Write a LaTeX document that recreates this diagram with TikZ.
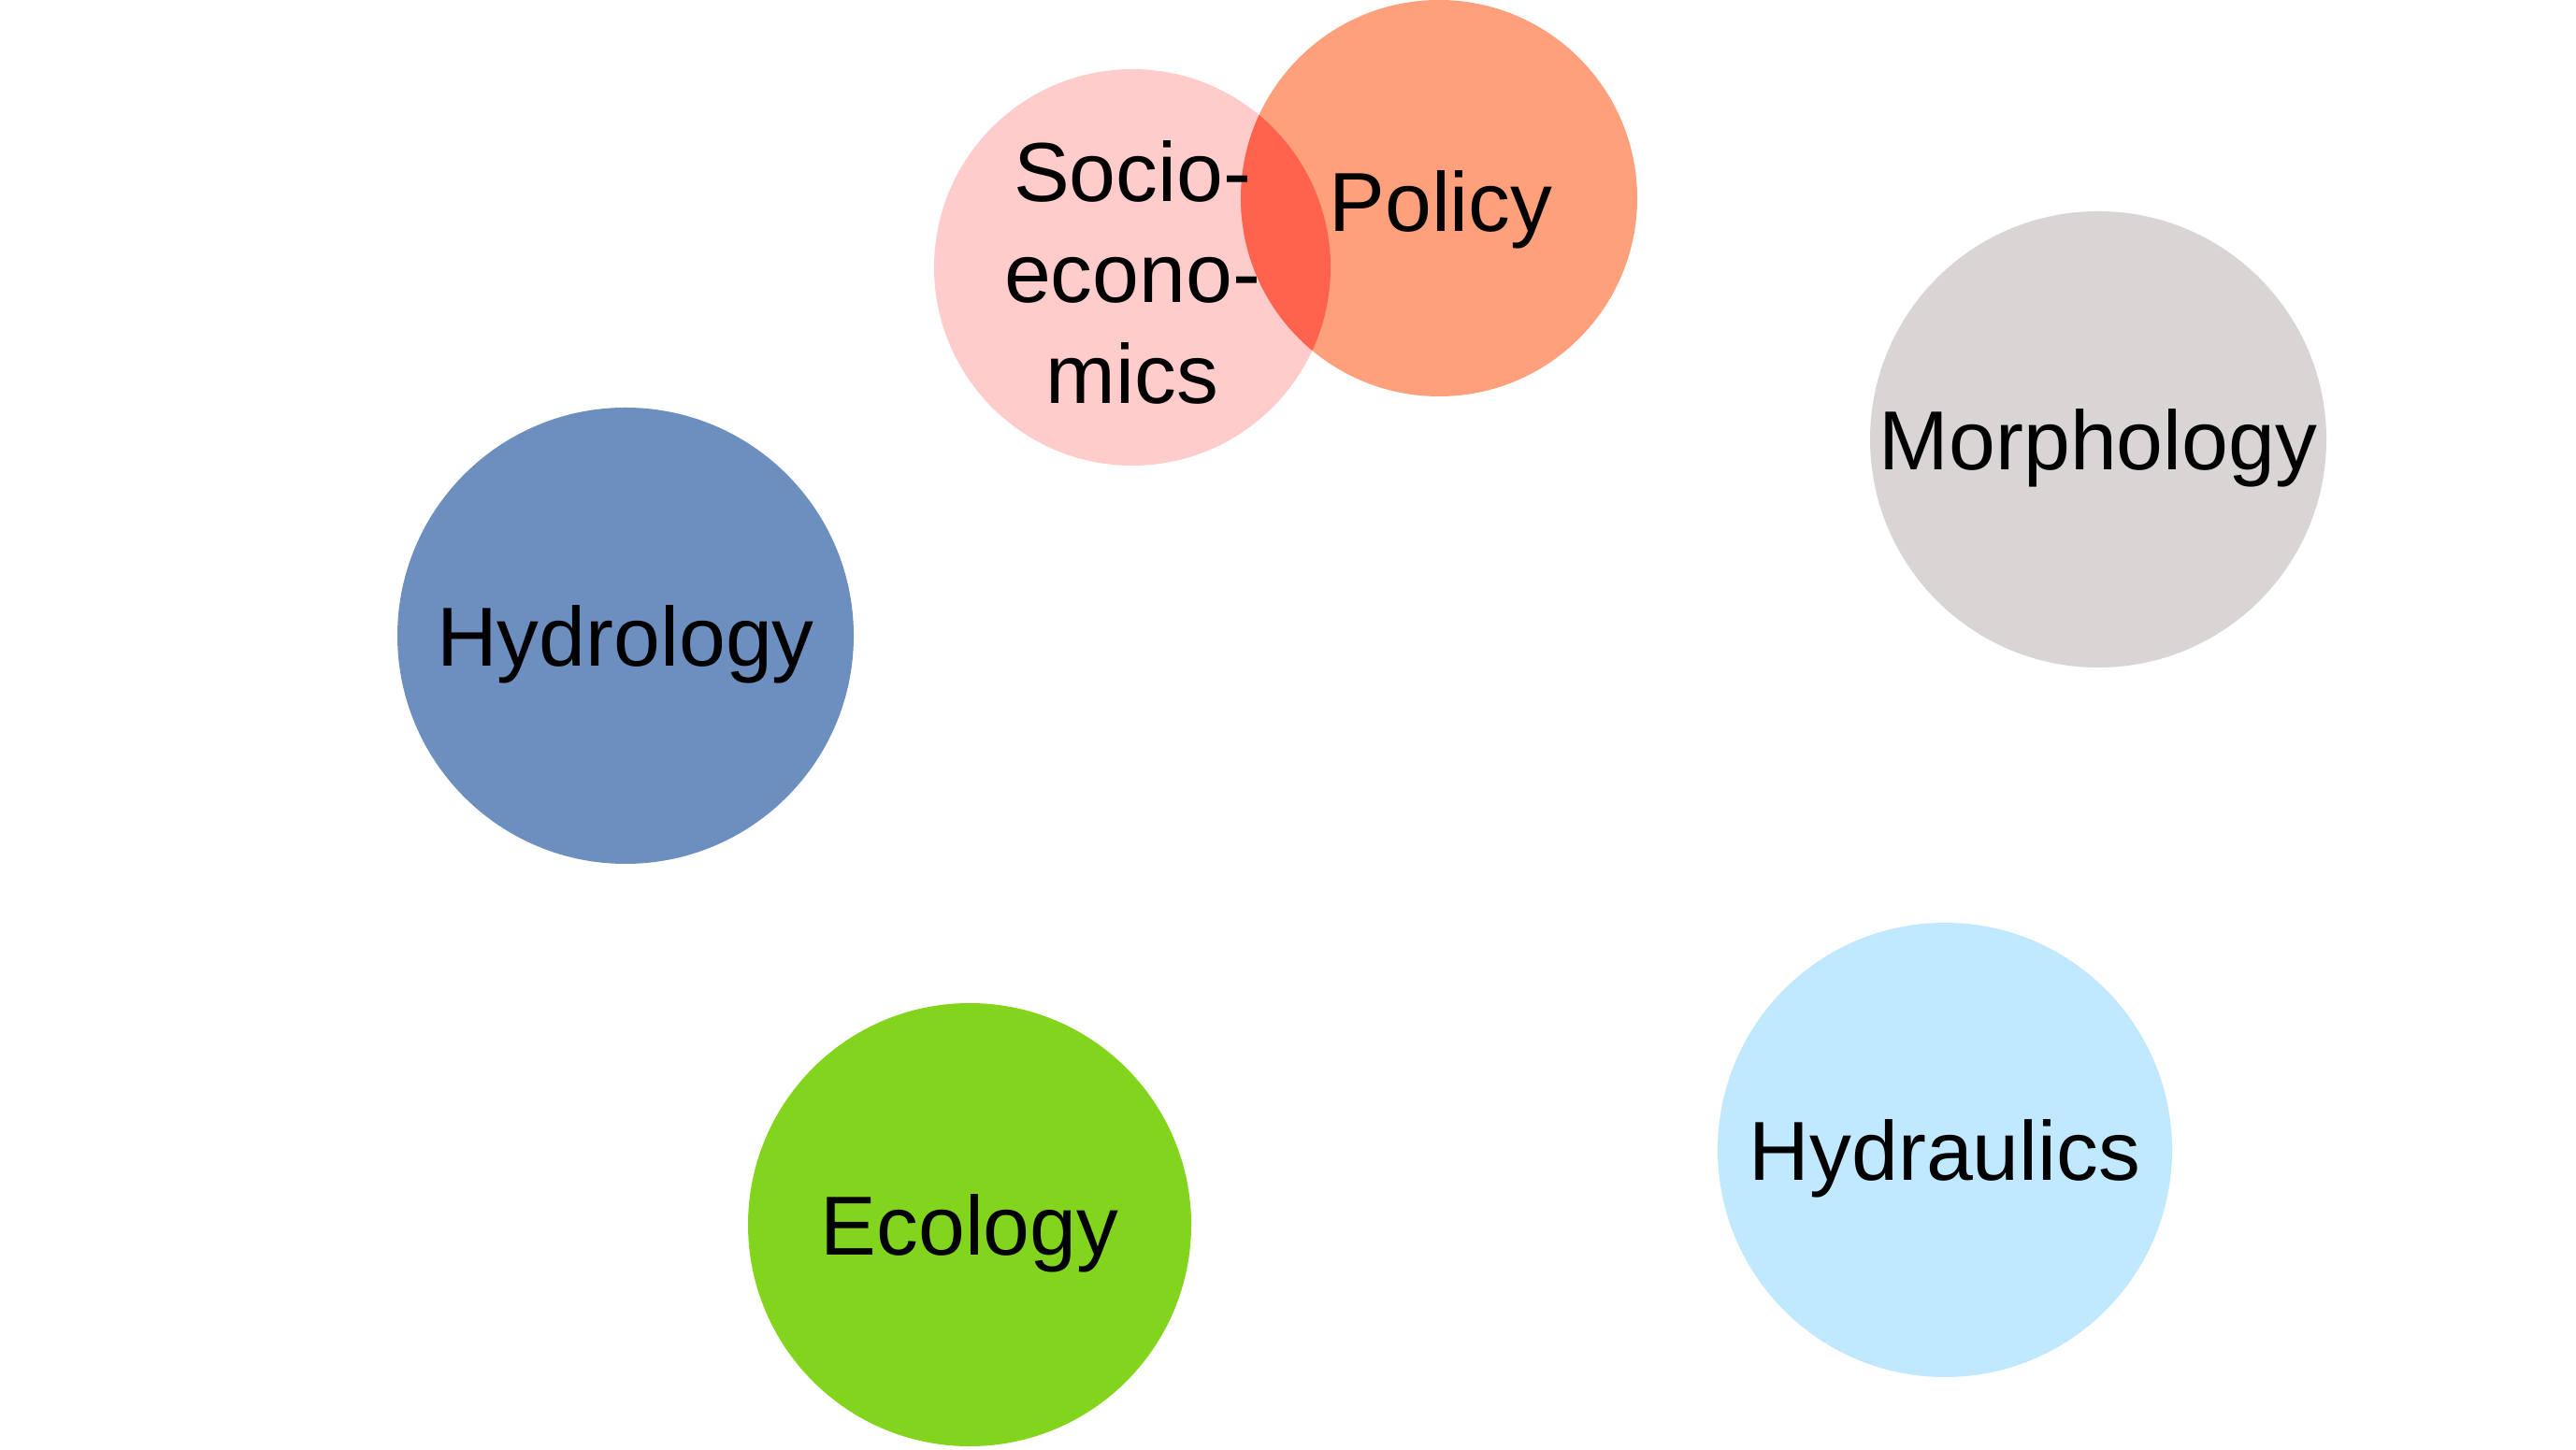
\documentclass[tikz,border=0pt]{standalone}
\usepackage{fontspec}
\setmainfont{Liberation Sans}
\definecolor{socioPink}{RGB}{255,204,204}
\definecolor{policySalmon}{RGB}{255,160,125}
\definecolor{overlapRed}{RGB}{255,99,77}
\definecolor{hydroBlue}{RGB}{108,143,191}
\definecolor{morphGrey}{RGB}{216,213,212}
\definecolor{ecoGreen}{RGB}{130,212,28}
\definecolor{hydrauBlue}{RGB}{192,232,255}

\begin{document}
\begin{tikzpicture}[
    font=\fontsize{25.5}{30.7}\selectfont,
    disc/.style={circle, draw=none, inner sep=0pt},
    small/.style={disc, minimum size=42.4mm},
    large/.style={disc, minimum size=48.8mm},
    lbl/.style={align=center, inner sep=0pt, text depth=0pt},
  ]
  \useasboundingbox (0,0) rectangle (27.55,15.5);

  % discs
  \node[small, fill=socioPink] (socio) at (12.11,12.64) {};
  \node[small, fill=policySalmon] (policy) at (15.39,13.38) {};
  \node[large, fill=hydroBlue] (hydro) at (6.69,8.70) {};
  \node[large, fill=morphGrey] (morph) at (22.44,10.80) {};
  \node[disc, minimum size=47.4mm, fill=ecoGreen] (eco) at (10.37,2.40) {};
  \node[disc, minimum size=48.6mm, fill=hydrauBlue] (hydrau) at (20.80,3.20) {};

  % overlap of socio-economics and policy
  \begin{scope}
    \clip (socio.center) circle[radius=21.2mm];
    \fill[overlapRed] (policy.center) circle[radius=21.2mm];
  \end{scope}

  % labels
  \node[lbl] (sociotext) at ([yshift=-0.5mm]socio.center) {Socio-\\econo-\\mics};
  \node[lbl] (policytext) at ([xshift=0.2mm,yshift=-0.3mm]policy.center) {Policy};
  \node[lbl] (hydrotext) at (hydro.center) {Hydrology};
  \node[lbl] (morphtext) at (morph.center) {Morphology};
  \node[lbl] (ecotext) at (eco.center) {Ecology};
  \node[lbl] (hydrautext) at (hydrau.center) {Hydraulics};
\end{tikzpicture}
\end{document}
